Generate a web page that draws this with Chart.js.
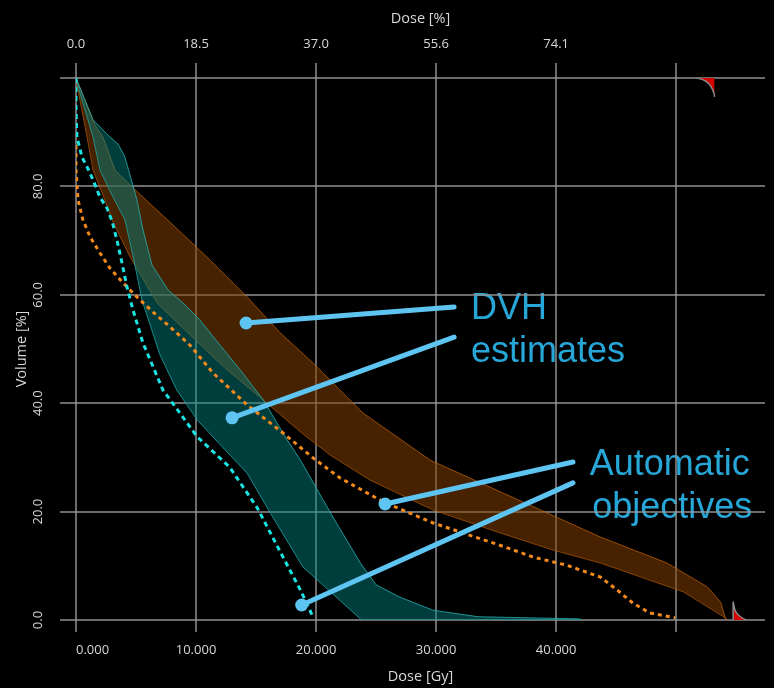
<!DOCTYPE html>
<html><head><meta charset="utf-8">
<script src="https://cdn.jsdelivr.net/npm/chart.js@4.4.0/dist/chart.umd.min.js"></script>
<style>html,body{margin:0;padding:0;background:#000;} #wrap{width:774px;height:688px;position:relative;}</style>
</head><body><div id="wrap"><canvas id="c"></canvas></div>
<script>
// ---- tick values / labels ----
const doseTickValues = [0, 10, 20, 30, 40, 50];
const doseGyLabels = ['0.000', '10.000', '20.000', '30.000', '40.000', ''];
const dosePctLabels = ['0.0', '18.5', '37.0', '55.6', '74.1', ''];
const volumeTickValues = [0, 20, 40, 60, 80, 100];
const volumeTickLabels = ['0.0', '20.0', '40.0', '60.0', '80.0', ''];

// ---- DVH estimate bands [dose Gy, volume %] ----
const brownUpper = [[0,100],[0.75,95.9],[1.58,91.3],[2.25,89.1],[3.25,83.0],[4.67,79.9],[7.83,73.4],[11.17,66.4],[14.25,59.6],[17.0,53.0],[19.75,47.4],[23.9,38.2],[29.5,29.5],[33.7,25.3],[38.7,20.3],[43.7,15.3],[49.25,10.5],[52.6,6.1],[53.7,3.3],[54.1,0.4],[54.2,0]];
const brownLower = [[0,100],[0.33,95.9],[0.92,89.1],[1.42,83.0],[2.25,78.4],[3.0,73.8],[4.5,67.0],[6.75,58.5],[9.5,52.6],[12.4,46.5],[15.6,40.6],[18.7,34.7],[21.2,30.4],[24.5,25.8],[29.75,20.3],[35.3,16.1],[39.75,12.9],[43.7,10.5],[50.6,5.2],[54.1,0.4],[54.2,0]];
const tealUpper = [[0,100],[1.42,92.3],[2.6,89.6],[3.5,87.8],[4.05,85.6],[4.5,82.1],[5.08,77.5],[5.58,72.0],[6.33,65.5],[7.67,60.9],[8.92,58.5],[10.3,55.4],[12.0,50.7],[13.7,46.1],[15.6,40.6],[17.6,33.2],[18.7,29.5],[21.4,19.0],[23.7,10.5],[25.0,6.5],[27.0,4.2],[29.75,1.8],[33.5,0.6],[42.0,0.2],[42.1,0]];
const tealLower = [[0,100],[0.5,95.9],[1.0,92.3],[1.42,89.1],[2.0,83.0],[3.0,78.4],[4.08,73.8],[4.83,66.4],[5.5,59.0],[7.0,48.9],[8.4,42.4],[10.1,36.9],[12.2,31.9],[14.25,27.1],[16.2,19.7],[18.9,9.8],[21.2,5.2],[23.7,0.2],[23.75,0],[42.1,0]];

// ---- automatic objectives (dotted) ----
const orangeObjective = [[0,87.6],[0,83.0],[0.17,77.5],[0.58,73.8],[1.17,70.7],[2.0,67.7],[2.83,64.9],[3.92,62.2],[5.08,59.6],[6.42,56.8],[7.83,54.1],[9.5,50.7],[11.4,45.6],[14.25,39.7],[17.25,34.5],[19.75,29.9],[22.0,26.2],[25.6,21.8],[29.75,17.9],[35.3,13.8],[38.1,11.6],[40.9,10.1],[43.7,7.9],[45.1,5.5],[46.4,3.1],[47.8,1.3],[49.9,0.4]];
const cyanObjective = [[0,100],[0,94.1],[0.08,89.1],[0.5,85.4],[0.92,83.6],[1.42,81.2],[2.0,78.0],[2.58,76.0],[3.0,73.6],[3.4,70.2],[3.8,66.2],[4.25,61.4],[4.75,57.2],[5.58,51.1],[7.25,42.4],[10.1,33.8],[12.8,28.2],[15.1,20.7],[17.25,11.6],[18.7,5.5],[19.75,0.55]];

// ---- constraint markers ----
const upperConstraint = [[51.75,100],[52.3,99.6],[52.75,98.9],[53.0,98.0],[53.15,97.2],[53.2,96.5]];
const lowerConstraint = [[54.75,0],[54.75,3.3],[54.85,2.2],[55.0,1.4],[55.3,0.7],[55.6,0.25],[55.9,0]];

// ---- callouts ----
const calloutLines = [
  [[14.17,54.8],[31.5,57.75]],
  [[13.0,37.3],[31.5,52.2]],
  [[25.75,21.4],[41.4,29.15]],
  [[18.8,2.77],[41.4,25.3]]
];
const calloutTexts = ['DVH', 'estimates', 'Automatic', 'objectives'];
const calloutAnchors = [[32.9,55.5],[32.9,47.6],[42.8,26.75],[43.0,18.8]];

const toXY = a => a.map(([x, y]) => ({x, y}));

Chart.defaults.font.family = '"Open Sans", sans-serif';
Chart.defaults.color = '#d8d8d8';

const calloutColor = '#5ec4f2';
const datasets = [];
calloutLines.forEach(l => datasets.push({
  data: toXY(l), borderColor: calloutColor, borderWidth: 5, pointRadius: [6.5, 0],
  pointBackgroundColor: calloutColor, pointBorderWidth: 0, fill: false, borderCapStyle: 'round'
}));
datasets.push({data: toXY(cyanObjective), borderColor: '#1ae3e3', borderWidth: 3, borderDash: [5, 4], pointRadius: 0, fill: false});
datasets.push({data: toXY(orangeObjective), borderColor: '#f58a1c', borderWidth: 3, borderDash: [4, 4], pointRadius: 0, fill: false});
datasets.push({data: toXY(upperConstraint), borderColor: '#8c8c8c', borderWidth: 1.5, backgroundColor: '#d60000', pointRadius: 0, fill: 'end', tension: 0.3});
datasets.push({data: toXY(lowerConstraint), borderColor: '#8c8c8c', borderWidth: 1.5, backgroundColor: '#d60000', pointRadius: 0, fill: 'origin', tension: 0.3});
const tealUpIdx = datasets.length;
datasets.push({data: toXY(tealUpper), borderColor: 'rgba(40,175,175,0.8)', borderWidth: 1, backgroundColor: 'rgba(0,135,135,0.45)', pointRadius: 0, fill: tealUpIdx + 1});
datasets.push({data: toXY(tealLower), borderColor: 'rgba(40,175,175,0.8)', borderWidth: 1, pointRadius: 0, fill: false});
const brownUpIdx = datasets.length;
datasets.push({data: toXY(brownUpper), borderColor: 'rgba(200,100,10,0.7)', borderWidth: 1, backgroundColor: 'rgba(135,66,0,0.52)', pointRadius: 0, fill: brownUpIdx + 1});
datasets.push({data: toXY(brownLower), borderColor: 'rgba(200,100,10,0.7)', borderWidth: 1, pointRadius: 0, fill: false});

const gridColor = 'rgba(150,150,150,0.72)';

const bgAndText = {
  id: 'bgAndText',
  beforeDraw(chart) {
    const {ctx, scales} = chart;
    ctx.save();
    ctx.fillStyle = '#000';
    ctx.fillRect(0, 0, chart.width, chart.height);
    ctx.fillStyle = '#27a7d8';
    ctx.font = '36px "Liberation Sans", Arial, sans-serif';
    ctx.textBaseline = 'alphabetic';
    ctx.textAlign = 'left';
    calloutTexts.forEach((t, i) => {
      ctx.fillText(t, scales.x.getPixelForValue(calloutAnchors[i][0]), scales.y.getPixelForValue(calloutAnchors[i][1]));
    });
    ctx.restore();
  }
};

new Chart(document.getElementById('c'), {
  type: 'line',
  data: {datasets},
  plugins: [bgAndText],
  options: {
    responsive: true, maintainAspectRatio: false, animation: false,
    layout: {padding: {left: 0, right: 9, top: 0, bottom: 0}},
    plugins: {legend: {display: false}, tooltip: {enabled: false}},
    elements: {line: {tension: 0}},
    scales: {
      x: {
        type: 'linear', position: 'bottom', min: 0, max: 57.4,
        afterBuildTicks: s => { s.ticks = doseTickValues.map(v => ({value: v})); },
        afterFit: s => { s.height = 68; },
        ticks: {callback: (v, i) => doseGyLabels[i], padding: 10, font: {size: 13}, maxRotation: 0, align: 'inner', color: '#d8d8d8'},
        grid: {color: gridColor, lineWidth: 2, tickLength: 12},
        border: {display: false},
        title: {display: true, text: 'Dose [Gy]', font: {size: 14.5}, padding: {top: 0, bottom: 2}, color: '#d8d8d8'}
      },
      x2: {
        type: 'linear', position: 'top', min: 0, max: 57.4,
        afterBuildTicks: s => { s.ticks = doseTickValues.map(v => ({value: v})); },
        afterFit: s => { s.height = 78; },
        ticks: {callback: (v, i) => dosePctLabels[i], padding: 11, font: {size: 13}, maxRotation: 0, color: '#d8d8d8'},
        grid: {color: gridColor, lineWidth: 2, tickLength: 15, drawOnChartArea: false},
        border: {display: false},
        title: {display: true, text: 'Dose [%]', font: {size: 14.5}, padding: {top: 10, bottom: 0}, color: '#d8d8d8'}
      },
      y: {
        type: 'linear', position: 'left', min: 0, max: 100,
        afterBuildTicks: s => { s.ticks = volumeTickValues.map(v => ({value: v})); },
        afterFit: s => { s.width = 76; },
        ticks: {callback: (v, i) => volumeTickLabels[i], padding: 9, font: {size: 13}, minRotation: 90, maxRotation: 90, crossAlign: 'center', color: '#d8d8d8'},
        grid: {color: gridColor, lineWidth: 2, tickLength: 16},
        border: {display: false},
        title: {display: true, text: 'Volume [%]', font: {size: 14.5}, padding: {top: 13, bottom: 0}, color: '#d8d8d8'}
      }
    }
  }
});
</script>
</body></html>
